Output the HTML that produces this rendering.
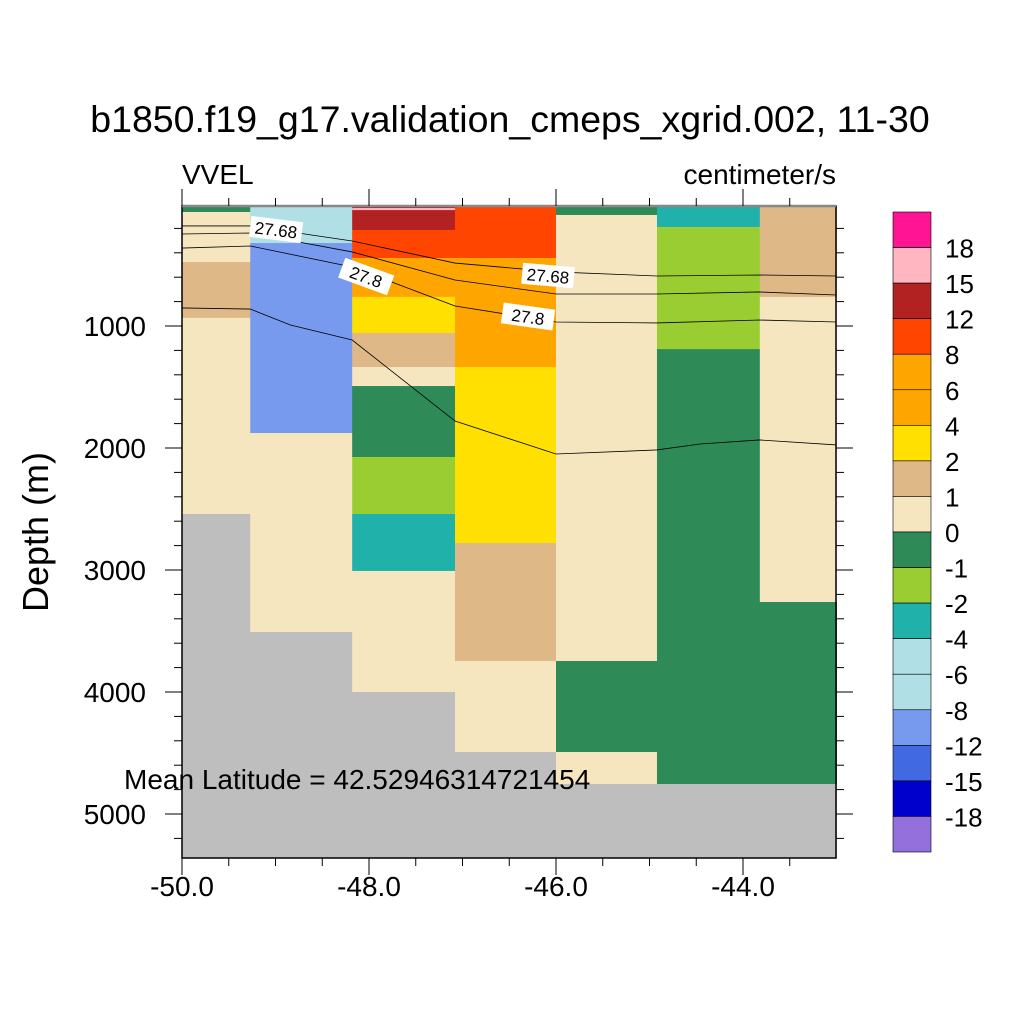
<!DOCTYPE html>
<html><head><meta charset="utf-8"><style>
body{margin:0;background:#fff}
svg text{font-family:"Liberation Sans",sans-serif;fill:#000}
</style></head><body>
<svg id="chart" width="1024" height="1024" viewBox="0 0 1024 1024">
<text x="510" y="132" font-size="37.5" text-anchor="middle">b1850.f19_g17.validation_cmeps_xgrid.002, 11-30</text>
<text x="182" y="184" font-size="28">VVEL</text>
<text x="836" y="184" font-size="28" text-anchor="end">centimeter/s</text>
<text x="48" y="532" font-size="36" text-anchor="middle" transform="rotate(-90 48 532)">Depth (m)</text>
<g id="cells"></g>
<g id="contours"></g>
<g id="axes"></g>
<g id="cbar"></g>
<text x="124" y="789" font-size="28">Mean Latitude = 42.52946314721454</text>
</svg>
<script>
const colEdges=[-50,-49.27,-48.18,-47.08,-46.0,-44.92,-43.82,-43.0];
const C={dg:'#2e8b57',wh:'#f5e6c0',tan:'#deb887',gr:'#bebebe',pb:'#b0e0e6',cb:'#7799ee',fr:'#b22222',lp:'#ffb6c1',or:'#ff4500',og:'#ffa500',ye:'#ffe000',yg:'#9acd32',ls:'#20b2aa'};
const col0=[[16,66,'dg'],[66,475,'wh'],[475,934,'tan'],[934,2541,'wh'],[2541,5360,'gr']];
const col1=[[16,320,'pb'],[320,1877,'cb'],[1877,3508,'wh'],[3508,5360,'gr']];
const col2=[[16,213,'fr'],[33,50,'lp'],[213,443,'or'],[443,762,'og'],[762,1057,'ye'],[1057,1336,'tan'],[1336,1492,'wh'],[1492,2074,'dg'],[2074,2541,'yg'],[2541,3008,'ls'],[3008,4000,'wh'],[4000,5360,'gr']];
const col3=[[16,443,'or'],[443,1336,'og'],[1336,2779,'ye'],[2779,3746,'tan'],[3746,4492,'wh'],[4492,5360,'gr']];
const col4=[[16,90,'dg'],[90,3746,'wh'],[3746,4492,'dg'],[4492,4754,'wh'],[4754,5360,'gr']];
const col5=[[16,189,'ls'],[189,1189,'yg'],[1189,4754,'dg'],[4754,5360,'gr']];
const col6=[[16,762,'tan'],[762,3262,'wh'],[3262,4754,'dg'],[4754,5360,'gr']];
const columns=[col0,col1,col2,col3,col4,col5,col6];
const contourLons=[-50,-49.27,-48.18,-47.08,-46.0,-44.92,-43.82,-43.0];
const contourA=[180,180,303,484,557,590,582,590];
const contourB=[246,238,393,623,738,738,721,746];
const contourC=[361,344,516,836,967,975,951,967];
const contourDLons=[-50,-49.27,-48.84,-48.18,-47.08,-46.0,-44.92,-44.46,-43.82,-43.0];
const contourD=[852,861,992,1115,1779,2049,2016,1967,1934,1975];
const xTicks=[-50,-48,-46,-44];
const yTicks=[1000,2000,3000,4000,5000];
const cbColors=['#ff1493','#ffb6c1','#b22222','#ff4500','#ffa500','#ffa500','#ffe000','#deb887','#f5e6c0','#2e8b57','#9acd32','#20b2aa','#b0e0e6','#b0e0e6','#7799ee','#4169e1','#0000cd','#9370db'];
const cbLabels=['18','15','12','8','6','4','2','1','0','-1','-2','-4','-6','-8','-12','-15','-18'];

const X=l=>182+93.5*(l+50);
const Y=d=>204+0.122*d;
const NS='http://www.w3.org/2000/svg';
function mk(p,t,a){const e=document.createElementNS(NS,t);for(const k in a)e.setAttribute(k,a[k]);p.appendChild(e);return e;}
const cells=document.getElementById('cells');
columns.forEach((col,i)=>{col.forEach(c=>{
 const r=mk(cells,'rect',{x:X(colEdges[i]),y:Y(c[0]),width:X(colEdges[i+1])-X(colEdges[i])+0.5,height:Y(c[1])-Y(c[0]),fill:C[c[2]]});
 
 
});});
const cg=document.getElementById('contours');
function line(lons,ds,nm){const p=mk(cg,'polyline',{points:lons.map((l,i)=>X(l)+','+Y(ds[i])).join(' '),fill:'none',stroke:'#000','stroke-width':0.8});
 
 }
line(contourLons,contourA,'contour-27-68');
line(contourLons,contourB,'contour-27-74');
line(contourLons,contourC,'contour-27-8');
line(contourDLons,contourD,'contour-deep');
function lab(x,y,rot,t){const g=mk(cg,'g',{transform:`translate(${x},${y}) rotate(${rot})`});
 
 
 mk(g,'rect',{x:-26,y:-11,width:52,height:21,fill:'#fff'});
 const tx=mk(g,'text',{x:0,y:6,'font-size':17,'text-anchor':'middle'});tx.textContent=t;}
lab(276,230,7,'27.68');lab(366,277,20,'27.8');lab(548,276,5,'27.68');lab(528,317,8,'27.8');
const ax=document.getElementById('axes');
mk(ax,'rect',{x:182,y:206,width:654,height:652,fill:'none',stroke:'#000','stroke-width':1.5});
mk(ax,'line',{x1:182,y1:206,x2:836,y2:206,stroke:'#888','stroke-width':2.5});
for(let v=-50;v<=-43.01;v+=0.5){const maj=Number.isInteger(v)&&Math.abs(v%2)===0;const L=maj?17:8;
 mk(ax,'line',{x1:X(v),y1:858,x2:X(v),y2:858+L,stroke:'#000','stroke-width':1});
 mk(ax,'line',{x1:X(v),y1:206,x2:X(v),y2:206-L,stroke:'#000','stroke-width':1});}
xTicks.forEach(v=>{const t=mk(ax,'text',{x:X(v),y:896,'font-size':28,'text-anchor':'middle'});t.textContent=v.toFixed(1);
 });
for(let d=200;d<=5200;d+=200){const maj=d%1000===0;const L=maj?17:8;
 mk(ax,'line',{x1:182,y1:Y(d),x2:182-L,y2:Y(d),stroke:'#000','stroke-width':1});
 mk(ax,'line',{x1:836,y1:Y(d),x2:836+L,y2:Y(d),stroke:'#000','stroke-width':1});}
yTicks.forEach(v=>{const t=mk(ax,'text',{x:146,y:Y(v)+10,'font-size':28,'text-anchor':'end'});t.textContent=v;
 });
const cb=document.getElementById('cbar');const h=640/18;
cbColors.forEach((c,i)=>{const r=mk(cb,'rect',{x:893,y:212+i*h,width:38,height:h,fill:c,stroke:'#000','stroke-width':0.6});
 });
cbLabels.forEach((t,i)=>{const e=mk(cb,'text',{x:945,y:212+(i+1)*h+10,'font-size':26});e.textContent=t;
 });
</script>
</body></html>
